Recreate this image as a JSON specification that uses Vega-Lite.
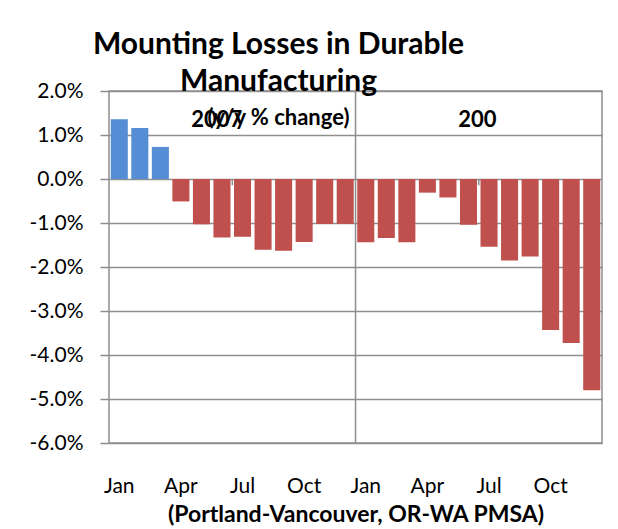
{
  "$schema": "https://vega.github.io/schema/vega-lite/v6.json",
  "width": 493,
  "height": 352,
  "autosize": {"type": "none"},
  "padding": {"left": 109, "top": 91, "right": 16, "bottom": 86},
  "background": "white",
  "config": {
    "font": "Lato",
    "view": {"stroke": "#8e8e8e", "strokeWidth": 1.5}
  },
  "title": {
    "text": ["Mounting Losses in Durable", "Manufacturing"],
    "subtitle": "(y/y % change)",
    "fontSize": 30,
    "fontWeight": "bold",
    "lineHeight": 37,
    "color": "black",
    "subtitleFontSize": 22,
    "subtitleFontWeight": "bold",
    "subtitleColor": "black",
    "subtitlePadding": 11,
    "anchor": "middle",
    "frame": "group",
    "dx": -77,
    "offset": -49
  },
  "data": {
    "values": [
      {"key": "2007-01", "v": 1.36},
      {"key": "2007-02", "v": 1.16},
      {"key": "2007-03", "v": 0.73},
      {"key": "2007-04", "v": -0.51},
      {"key": "2007-05", "v": -1.03},
      {"key": "2007-06", "v": -1.33},
      {"key": "2007-07", "v": -1.31},
      {"key": "2007-08", "v": -1.61},
      {"key": "2007-09", "v": -1.63},
      {"key": "2007-10", "v": -1.43},
      {"key": "2007-11", "v": -1.02},
      {"key": "2007-12", "v": -1.02},
      {"key": "2008-01", "v": -1.44},
      {"key": "2008-02", "v": -1.34},
      {"key": "2008-03", "v": -1.44},
      {"key": "2008-04", "v": -0.31},
      {"key": "2008-05", "v": -0.42},
      {"key": "2008-06", "v": -1.04},
      {"key": "2008-07", "v": -1.54},
      {"key": "2008-08", "v": -1.85},
      {"key": "2008-09", "v": -1.76},
      {"key": "2008-10", "v": -3.43},
      {"key": "2008-11", "v": -3.73},
      {"key": "2008-12", "v": -4.80}
    ]
  },
  "encoding": {
    "x": {
      "field": "key",
      "type": "nominal",
      "scale": {"paddingInner": 0.17, "paddingOuter": 0.085},
      "axis": {
        "title": "(Portland-Vancouver, OR-WA PMSA)",
        "titleFontSize": 23,
        "titleFontWeight": "bold",
        "titleColor": "black",
        "titlePadding": 7,
        "labelAngle": 0,
        "labelFontSize": 21,
        "labelColor": "black",
        "labelPadding": 32,
        "labelOverlap": false,
        "labelExpr": "slice(datum.value,5)=='01' ? 'Jan' : slice(datum.value,5)=='04' ? 'Apr' : slice(datum.value,5)=='07' ? 'Jul' : slice(datum.value,5)=='10' ? 'Oct' : ''",
        "ticks": false,
        "tickSize": 0,
        "domain": false,
        "grid": false
      }
    }
  },
  "layer": [
    {
      "mark": {"type": "bar"},
      "encoding": {
        "y": {
          "field": "v",
          "type": "quantitative",
          "scale": {"domain": [-6, 2], "nice": false, "zero": true},
          "axis": {
            "title": null,
            "values": [-6, -5, -4, -3, -2, -1, 0, 1, 2],
            "labelExpr": "(datum.value < 0 ? '-' : '') + format(abs(datum.value), '.1f') + '%'",
            "labelFontSize": 21,
            "labelColor": "black",
            "labelPadding": 17,
            "tickSize": 9,
            "tickColor": "#8e8e8e",
            "tickWidth": 1.5,
            "domain": false,
            "grid": true,
            "gridColor": "#8e8e8e",
            "gridWidth": 1.5
          }
        },
        "color": {
          "condition": {"test": "datum.v > 0", "value": "#558ED5"},
          "value": "#C0504D"
        }
      }
    },
    {
      "data": {"values": [{"key": "2008-01"}]},
      "mark": {"type": "rule", "color": "#8e8e8e", "strokeWidth": 1.5},
      "encoding": {
        "x": {"field": "key", "type": "nominal", "bandPosition": -0.1},
        "y": {"datum": 2, "type": "quantitative"},
        "y2": {"datum": -6}
      }
    },
    {
      "data": {"values": [{"key": "2007-07"}, {"key": "2008-07"}]},
      "mark": {"type": "rule", "color": "#8e8e8e", "strokeWidth": 1.5},
      "encoding": {
        "x": {"field": "key", "type": "nominal", "bandPosition": -0.1},
        "y": {"datum": 0, "type": "quantitative"},
        "y2": {"datum": -0.14}
      }
    },
    {
      "data": {"values": [{"key": "2007-05", "label": "2007"}, {"key": "2008-06", "label": "200"}]},
      "mark": {"type": "text", "align": "left", "baseline": "alphabetic", "fontSize": 22, "fontWeight": "bold", "color": "black"},
      "encoding": {
        "x": {"field": "key", "type": "nominal", "bandPosition": -0.1},
        "y": {"datum": 1.19, "type": "quantitative"},
        "text": {"field": "label"}
      }
    }
  ]
}
